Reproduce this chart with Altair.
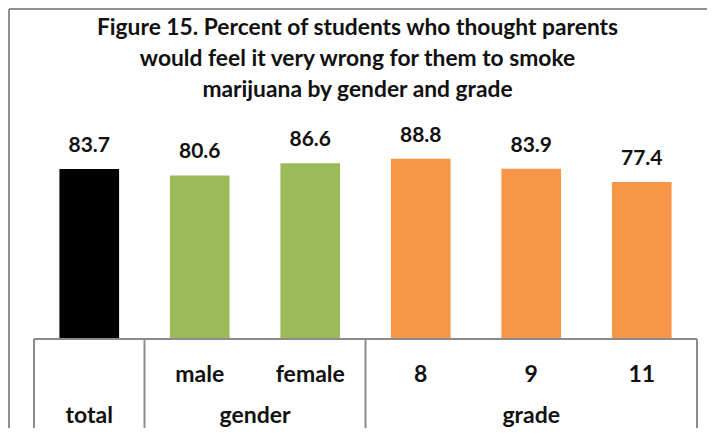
import altair as alt
import pandas as pd

categories = ["total", "male", "female", "8", "9", "11"]
sub_labels = ["", "male", "female", "8", "9", "11"]
values = [83.7, 80.6, 86.6, 88.8, 83.9, 77.4]
colors = ["#000000", "#9BBB59", "#9BBB59", "#F79646", "#F79646", "#F79646"]
group_labels = ["total", "gender", "grade"]
group_centers = [0.5, 2.0, 4.5]
group_bounds = [0, 1, 3, 6]
title_lines = ["Figure 15. Percent of students who thought parents",
               "would feel it very wrong for them to smoke",
               "marijuana by gender and grade"]

FONT = "Lato"
GRID = "#8c8c8c"
W, H = 663, 203

bars_df = pd.DataFrame({"cat": categories, "value": values, "color": colors,
                        "sub": sub_labels, "pos": [i + 0.5 for i in range(len(categories))]})
groups_df = pd.DataFrame({"label": group_labels, "pos": group_centers})
bounds_df = pd.DataFrame({"b": group_bounds})
span_df = pd.DataFrame({"start": [group_bounds[0]], "end": [group_bounds[-1]]})

xband = alt.X("cat:N", sort=categories,
              scale=alt.Scale(paddingInner=0.46, paddingOuter=0.23), axis=None)
yq = alt.Y("value:Q", scale=alt.Scale(domain=[0, 100]), axis=None)

bars = alt.Chart(bars_df).mark_bar().encode(
    x=xband, y=yq, color=alt.Color("color:N", scale=None))

vals = alt.Chart(bars_df).mark_text(font=FONT, fontWeight="bold", fontSize=21,
                                    baseline="alphabetic", dy=-17, color="#111").encode(
    x=alt.X("cat:N", sort=categories), y=yq, text=alt.Text("value:Q", format=".1f"))

base = alt.layer(bars, vals)

xq = alt.Scale(domain=[0, 6], nice=False, zero=False)

subs = alt.Chart(bars_df).mark_text(font=FONT, fontSize=23, fontWeight="bold",
                                    baseline="alphabetic", color="#111").encode(
    x=alt.X("pos:Q", scale=xq, axis=None), y=alt.value(H + 43), text="sub:N")

grp = alt.Chart(groups_df).mark_text(font=FONT, fontSize=23, fontWeight="bold",
                                     baseline="alphabetic", color="#111").encode(
    x=alt.X("pos:Q", scale=xq, axis=None), y=alt.value(H + 84), text="label:N")

vlines = alt.Chart(bounds_df).mark_rule(color=GRID, strokeWidth=2).encode(
    x=alt.X("b:Q", scale=xq, axis=None), y=alt.value(H), y2=alt.value(H + 92))

hline = alt.Chart(span_df).mark_rule(color=GRID, strokeWidth=2).encode(
    x=alt.X("start:Q", scale=xq, axis=None), x2="end:Q", y=alt.value(H))

frame_left = alt.Chart(bounds_df.head(1)).mark_rule(color="#8f8f8f", strokeWidth=2).encode(
    x=alt.value(-25), y=alt.value(-127), y2=alt.value(H + 92))
frame_top = alt.Chart(bounds_df.head(1)).mark_rule(color="#8f8f8f", strokeWidth=2).encode(
    x=alt.value(-25), x2=alt.value(W + 20), y=alt.value(-127))

title = alt.Chart(bounds_df.head(1)).mark_text(
    font=FONT, fontSize=22.8, fontWeight="bold", color="#111",
    baseline="alphabetic", align="center", lineHeight=31).encode(
    x=alt.value(W / 2 - 8), y=alt.value(-101), text=alt.value(title_lines))

table = alt.layer(subs, grp, vlines, hline, frame_left, frame_top, title)

chart = alt.layer(base, table).resolve_scale(x="independent").properties(
    width=W, height=H,
    background="white",
    autosize=alt.AutoSizeParams(type="none"),
    padding={"left": 26, "top": 128, "right": 10, "bottom": 89},
).configure_view(strokeWidth=0)

chart.save("out.html", embed_options={"renderer": "svg", "actions": False})
